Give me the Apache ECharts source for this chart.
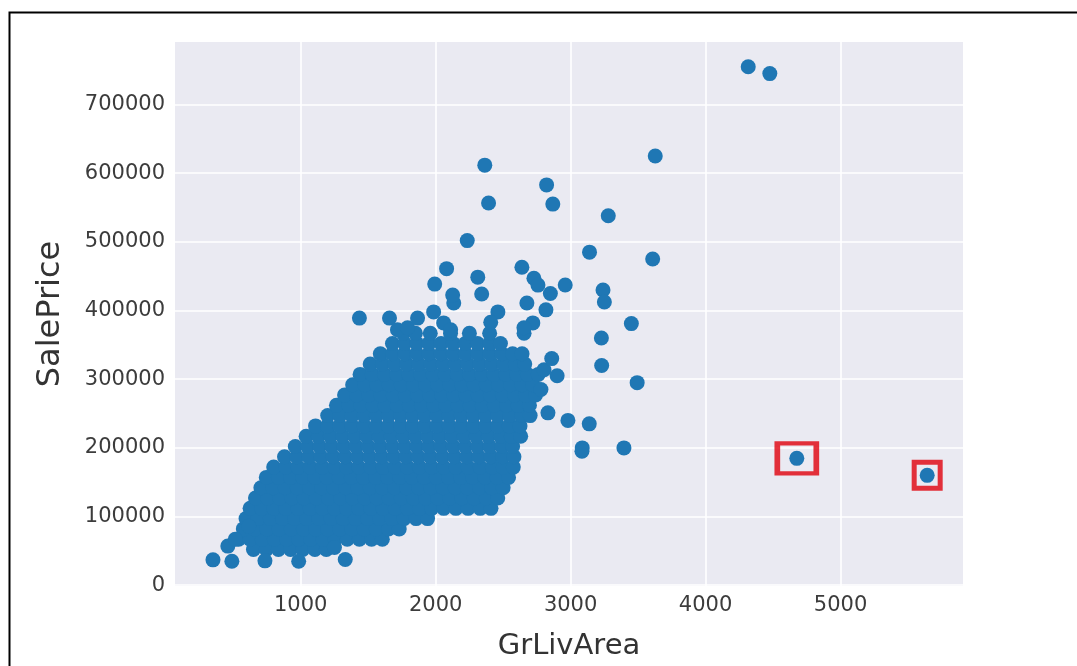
<!DOCTYPE html>
<html>
<head>
<meta charset="utf-8">
<script src="https://cdn.jsdelivr.net/npm/echarts@6/dist/echarts.min.js"></script>
<style>
  html, body { margin: 0; padding: 0; background: #ffffff; }
  #chart { width: 1077px; height: 666px; }
</style>
</head>
<body>
<div id="chart"></div>
<script>
// GrLivArea (sq ft) vs SalePrice ($) for the house sales.

// Axis limits (data range plus a 5% margin on each side)
const xLimits = [68.6, 5907.4];
const yLimits = [-1105, 791005];

// The dense body of sales, grouped by price band: [price, [living areas]]
const blobRows = [
  [52000, [650, 745, 835, 925, 1015, 1105, 1190]],
  [67000, [540, 625, 715, 805, 895, 985, 1075, 1165, 1255, 1345, 1435, 1525, 1605]],
  [82000, [575, 660, 750, 840, 930, 1020, 1110, 1200, 1290, 1380, 1470, 1560, 1650, 1730]],
  [97000, [595, 685, 775, 865, 955, 1045, 1135, 1225, 1315, 1405, 1495, 1585, 1675, 1765, 1855, 1940]],
  [112000, [625, 710, 800, 890, 980, 1070, 1160, 1250, 1340, 1430, 1520, 1610, 1700, 1790, 1880, 1970, 2060, 2150, 2240, 2330, 2410]],
  [127000, [665, 755, 845, 935, 1025, 1115, 1205, 1295, 1385, 1475, 1565, 1655, 1745, 1835, 1925, 2015, 2105, 2195, 2285, 2375, 2460]],
  [142000, [705, 795, 885, 975, 1065, 1155, 1245, 1335, 1425, 1515, 1605, 1695, 1785, 1875, 1965, 2055, 2145, 2235, 2325, 2415, 2500]],
  [157000, [745, 835, 925, 1015, 1105, 1195, 1285, 1375, 1465, 1555, 1645, 1735, 1825, 1915, 2005, 2095, 2185, 2275, 2365, 2455, 2540]],
  [172000, [800, 890, 980, 1070, 1160, 1250, 1340, 1430, 1520, 1610, 1700, 1790, 1880, 1970, 2060, 2150, 2240, 2330, 2420, 2500, 2575]],
  [187000, [880, 970, 1060, 1150, 1240, 1330, 1420, 1510, 1600, 1690, 1780, 1870, 1960, 2050, 2140, 2230, 2320, 2410, 2495, 2580]],
  [202000, [960, 1050, 1140, 1230, 1320, 1410, 1500, 1590, 1680, 1770, 1860, 1950, 2040, 2130, 2220, 2310, 2400, 2490, 2570]],
  [217000, [1040, 1130, 1220, 1310, 1400, 1490, 1580, 1670, 1760, 1850, 1940, 2030, 2120, 2210, 2300, 2390, 2480, 2560, 2630]],
  [232000, [1110, 1200, 1290, 1380, 1470, 1560, 1650, 1740, 1830, 1920, 2010, 2100, 2190, 2280, 2370, 2460, 2545, 2625]],
  [247000, [1200, 1290, 1380, 1470, 1560, 1650, 1740, 1830, 1920, 2010, 2100, 2190, 2280, 2370, 2460, 2550, 2640, 2700]],
  [262000, [1265, 1355, 1445, 1535, 1625, 1715, 1805, 1895, 1985, 2075, 2165, 2255, 2345, 2435, 2525, 2610, 2695]],
  [277000, [1325, 1415, 1505, 1595, 1685, 1775, 1865, 1955, 2045, 2135, 2225, 2315, 2405, 2495, 2585, 2665, 2740]],
  [292000, [1385, 1475, 1565, 1655, 1745, 1835, 1925, 2015, 2105, 2195, 2285, 2375, 2465, 2555, 2640, 2720]],
  [307000, [1440, 1530, 1620, 1710, 1800, 1890, 1980, 2070, 2160, 2250, 2340, 2430, 2520, 2600, 2680, 2760]],
  [322000, [1515, 1605, 1695, 1785, 1875, 1965, 2055, 2145, 2235, 2325, 2415, 2505, 2590, 2660]],
  [337000, [1590, 1680, 1770, 1860, 1950, 2040, 2130, 2220, 2310, 2400, 2490, 2570, 2640]],
  [352000, [1680, 1770, 1860, 1950, 2040, 2130, 2220, 2310, 2400, 2480]],
  [367000, [1760, 1850, 1960, 2110, 2250, 2400, 2655]]
];

// Individual sales away from the main body
const singleArea = [
  350, 490, 735, 985, 1330, 460, 515, 615, 1250,
  1435, 1658, 1717, 1792, 1866, 1985, 2059, 2111, 2134, 2126, 1993,
  2081, 2312, 2341, 2461, 2408, 2639, 2676, 2728, 2758, 2817, 2720, 2654,
  4316, 4476, 3627, 2364, 2822, 2392, 2868, 3279, 2234, 3140, 3608,
  2960, 2850, 3240, 3250, 3450, 3228, 3230, 3493,
  2803, 2832, 2980, 3138, 3086, 3084, 3395, 4676, 5642,
  2860, 2900, 2780
];
const singlePrice = [
  37000, 35000, 35500, 35000, 37500, 57000, 67000, 86000, 55000,
  389000, 389000, 372000, 375000, 389000, 398000, 382000, 372000, 411000, 422500, 438500,
  461000, 448600, 424000, 398000, 383000, 463000, 411000, 447000, 437000, 401000, 382000, 375000,
  755000, 745000, 625000, 611657, 582933, 556581, 555000, 538000, 501837, 485000, 475000,
  437154, 424870, 430000, 412500, 381000, 360000, 320000, 295000,
  313700, 251000, 240000, 235000, 200000, 195000, 200000, 184750, 160000,
  330000, 305000, 285000
];

// Two sales singled out with red frames: [area, price]
const flaggedArea = [4676, 5642];
const flaggedPrice = [184750, 160000];

const points = [];
blobRows.forEach(([price, areas]) => areas.forEach(a => points.push([a, price])));
singleArea.forEach((a, i) => points.push([a, singlePrice[i]]));

const chart = echarts.init(document.getElementById('chart'), null, { renderer: 'canvas' });

const tickFont = { fontFamily: 'DejaVu Sans', fontSize: 21, color: '#3c3c3c' };
const plain = v => String(Math.abs(v) < 1e-6 ? 0 : Math.round(v));

chart.setOption({
  backgroundColor: '#ffffff',
  animation: false,
  graphic: [{
    type: 'rect',
    left: 7, top: 10,
    shape: { width: 1200, height: 800 },
    style: { fill: 'none', stroke: '#000000', lineWidth: 2 },
    z: 100
  }],
  grid: {
    left: 175, right: 114, top: 42, bottom: 77,
    show: true, backgroundColor: '#EAEAF2', borderWidth: 0
  },
  xAxis: {
    type: 'value',
    min: xLimits[0], max: xLimits[1],
    splitNumber: 5,
    name: 'GrLivArea',
    nameLocation: 'middle',
    nameGap: 46,
    nameTextStyle: { fontFamily: 'DejaVu Sans', fontSize: 29, color: '#333333' },
    axisLine: { show: false },
    axisTick: { show: false },
    axisLabel: Object.assign({ margin: 9, showMinLabel: false, showMaxLabel: false, formatter: plain }, tickFont),
    splitLine: { show: true, showMinLine: false, showMaxLine: false, lineStyle: { color: '#ffffff', width: 1.6 } }
  },
  yAxis: {
    type: 'value',
    min: yLimits[0], max: yLimits[1],
    splitNumber: 7,
    name: 'SalePrice',
    nameLocation: 'middle',
    nameGap: 108,
    nameTextStyle: { fontFamily: 'DejaVu Sans', fontSize: 32, color: '#333333' },
    axisLine: { show: false },
    axisTick: { show: false },
    axisLabel: Object.assign({ margin: 10, showMinLabel: false, showMaxLabel: false, formatter: plain }, tickFont),
    splitLine: { show: true, showMinLine: false, showMaxLine: false, lineStyle: { color: '#ffffff', width: 1.6 } }
  },
  series: [
    {
      type: 'scatter',
      data: points,
      symbolSize: 15,
      itemStyle: { color: '#1f77b4', opacity: 1 },
      silent: true
    },
    {
      type: 'scatter',
      data: flaggedArea.map((a, i) => [a, flaggedPrice[i]]),
      symbol: 'rect',
      symbolSize: (v, p) => p.dataIndex === 0 ? [39, 30] : [26, 26],
      itemStyle: { color: 'rgba(0,0,0,0)', borderColor: '#e0000b', borderWidth: 5 },
      z: 5,
      silent: true
    }
  ]
});
</script>
</body>
</html>
